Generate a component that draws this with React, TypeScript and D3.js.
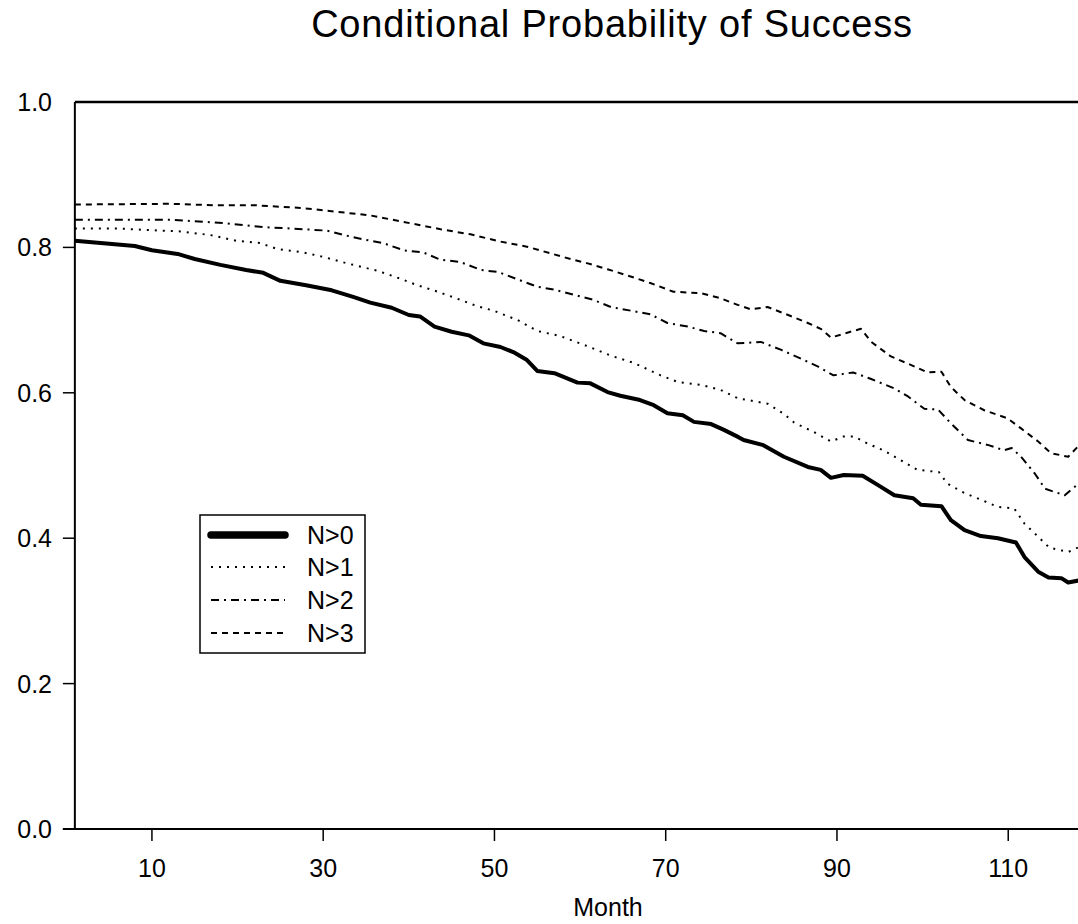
import React from "react";
import * as d3 from "d3";

const title = "Conditional Probability of Success";
const xLabel = "Month";
const xTicks = [10, 30, 50, 70, 90, 110];
const yTicks = [0, 0.2, 0.4, 0.6, 0.8];
const yTickLabels = ["0.0", "0.2", "0.4", "0.6", "0.8"];
const seriesNames = ["N>0", "N>1", "N>2", "N>3"];

const n0Months = [1, 4, 6, 8, 10, 13, 15, 18, 21, 23, 25, 28, 31, 33.5, 35.5, 38, 40, 41.3, 43, 45, 47, 48.7, 50.7, 52.2, 53.8, 55, 57, 59.7, 61.2, 63.2, 64.7, 67, 68.6, 70.2, 72, 73.3, 75.3, 76.8, 78.5, 79.1, 81.4, 83.8, 86.6, 88.1, 89.3, 90.8, 93, 94.8, 96.7, 98.9, 99.8, 102.2, 103.3, 104.9, 106.8, 108.8, 110.9, 111.9, 113.5, 114.7, 116.2, 117, 118.3, 120];
const n0Values = [0.809, 0.806, 0.804, 0.802, 0.796, 0.791, 0.784, 0.776, 0.769, 0.765, 0.754, 0.748, 0.741, 0.732, 0.724, 0.717, 0.707, 0.705, 0.691, 0.684, 0.679, 0.668, 0.663, 0.656, 0.645, 0.63, 0.627, 0.614, 0.613, 0.601, 0.596, 0.59, 0.583, 0.572, 0.569, 0.56, 0.557, 0.549, 0.539, 0.535, 0.528, 0.512, 0.498, 0.494, 0.483, 0.487, 0.486, 0.473, 0.459, 0.455, 0.446, 0.444, 0.425, 0.411, 0.403, 0.4, 0.394, 0.374, 0.354, 0.346, 0.345, 0.339, 0.342, 0.342];

const n1Months = [1, 6, 9.4, 13.3, 16.8, 19.9, 22.6, 24.6, 27.7, 30, 32.8, 36.3, 39, 41, 42.9, 46, 48, 49.9, 52.7, 55, 57.7, 60.9, 63.6, 66.3, 69.4, 71.4, 74.1, 76.4, 78.5, 79.6, 81.9, 83.8, 85, 87.3, 89.3, 90.8, 92, 93.6, 95.4, 97.8, 99.4, 101.9, 102.9, 104.9, 106.8, 108.8, 110.7, 111.9, 113.5, 114.8, 117, 118.3, 120];
const n1Values = [0.826, 0.826, 0.824, 0.822, 0.817, 0.809, 0.806, 0.798, 0.793, 0.787, 0.778, 0.768, 0.757, 0.748, 0.741, 0.728, 0.719, 0.713, 0.7, 0.685, 0.678, 0.664, 0.651, 0.641, 0.624, 0.615, 0.611, 0.604, 0.592, 0.59, 0.585, 0.571, 0.559, 0.546, 0.533, 0.54, 0.54, 0.53, 0.521, 0.505, 0.494, 0.491, 0.475, 0.462, 0.453, 0.443, 0.441, 0.42, 0.402, 0.387, 0.381, 0.388, 0.388];

const n2Months = [1, 7, 12.2, 16.4, 18.8, 23, 27.7, 30.5, 32.8, 34.7, 37, 39.4, 41.7, 43.7, 46, 48.4, 50.5, 52.7, 55, 56.9, 59.2, 61.5, 63.6, 65.9, 68.2, 70.2, 72.6, 74.5, 76.4, 78.4, 81.1, 83.5, 85.8, 87.8, 89.6, 91.9, 94, 96.7, 98.3, 100.2, 101.8, 103.3, 105.3, 107.7, 109.5, 110.4, 111.5, 113.1, 114.3, 116.6, 118.2, 120];
const n2Values = [0.838, 0.838, 0.838, 0.835, 0.833, 0.828, 0.825, 0.823, 0.816, 0.811, 0.806, 0.796, 0.793, 0.783, 0.78, 0.769, 0.766, 0.756, 0.746, 0.742, 0.735, 0.728, 0.718, 0.713, 0.708, 0.696, 0.691, 0.685, 0.682, 0.668, 0.67, 0.659, 0.647, 0.636, 0.624, 0.628, 0.619, 0.606, 0.595, 0.578, 0.577, 0.558, 0.535, 0.528, 0.521, 0.524, 0.512, 0.489, 0.468, 0.459, 0.475, 0.48];

const n3Months = [1, 12.2, 17.2, 22, 27.7, 31.6, 35.5, 39.4, 43.7, 47.2, 50.7, 53.8, 56.5, 58.9, 60.9, 63.2, 65.9, 68.2, 70.9, 74.1, 76.4, 78.4, 79.9, 81.9, 84.3, 86.6, 88.1, 89.3, 91.3, 92.8, 94, 96.3, 98.3, 100.6, 102.2, 103.3, 104.9, 107.2, 109.9, 111.5, 113.5, 115, 117, 118.3, 120];
const n3Values = [0.859, 0.86, 0.858, 0.858, 0.854, 0.849, 0.844, 0.835, 0.825, 0.818, 0.808, 0.801, 0.792, 0.784, 0.778, 0.77, 0.76, 0.751, 0.739, 0.737, 0.73, 0.721, 0.715, 0.718, 0.707, 0.696, 0.688, 0.676, 0.683, 0.688, 0.67, 0.65, 0.64, 0.628, 0.629, 0.608, 0.59, 0.576, 0.565, 0.551, 0.533, 0.517, 0.512, 0.528, 0.535];

const seriesMonths = [n0Months, n1Months, n2Months, n3Months];
const seriesValues = [n0Values, n1Values, n2Values, n3Values];

const styles = [
  { width: 4, dash: "none", legendWidth: 7.5 },
  { width: 2, dash: "2,6", legendWidth: 2 },
  { width: 2, dash: "8,5,2,5", legendWidth: 2 },
  { width: 2, dash: "6,5", legendWidth: 2 },
];

const W = 1078;
const H = 924;
const FONT = "'Liberation Sans', Arial, Helvetica, sans-serif";

export default function App() {
  const x = d3.scaleLinear().domain([0, 120]).range([66.3, 66.3 + 8.563 * 120]);
  const y = d3.scaleLinear().domain([0, 1]).range([829, 102]);
  const left = x(1);
  const line = d3
    .line<[number, number]>()
    .x((d) => x(d[0]))
    .y((d) => y(d[1]))
    .curve(d3.curveLinear);

  const legendX = 200;
  const legendY = 515;
  const legendRows = [535, 567, 600, 633];

  return (
    <svg
      width={W}
      height={H}
      style={{ position: "absolute", left: 0, top: 0, background: "#fff" }}
      fontFamily={FONT}
    >
      <rect x={0} y={0} width={W} height={H} fill="#fff" />
      <text x={612} y={37} textAnchor="middle" fontSize={38} letterSpacing={0.8} fill="#000">
        {title}
      </text>

      {seriesNames.map((name, i) => {
        const pts = seriesMonths[i].map((m, j) => [m, seriesValues[i][j]] as [number, number]);
        return (
          <path
            key={name}
            d={line(pts) || ""}
            fill="none"
            stroke="#000"
            strokeWidth={styles[i].width}
            strokeDasharray={styles[i].dash}
            strokeLinejoin="round"
          />
        );
      })}

      {/* top frame line at 1.0 */}
      <line x1={left} x2={W} y1={y(1)} y2={y(1)} stroke="#000" strokeWidth={2.5} />
      {/* y axis */}
      <line x1={left} x2={left} y1={y(1)} y2={y(0)} stroke="#000" strokeWidth={2} />
      {/* x axis */}
      <line x1={left - 12} x2={W} y1={y(0)} y2={y(0)} stroke="#000" strokeWidth={2} />

      {yTicks.map((t, i) => (
        <g key={"y" + t}>
          <line x1={left - 12} x2={left} y1={y(t)} y2={y(t)} stroke="#000" strokeWidth={1.5} />
          <text x={52} y={y(t)} dy="0.36em" textAnchor="end" fontSize={25} fill="#000">
            {yTickLabels[i]}
          </text>
        </g>
      ))}
      <text x={52} y={y(1)} dy="0.36em" textAnchor="end" fontSize={25} fill="#000">
        1.0
      </text>

      {xTicks.map((t) => (
        <g key={"x" + t}>
          <line x1={x(t)} x2={x(t)} y1={y(0)} y2={y(0) + 12} stroke="#000" strokeWidth={1.5} />
          <text x={x(t)} y={877} textAnchor="middle" fontSize={25} fill="#000">
            {t}
          </text>
        </g>
      ))}
      <text x={608} y={916} textAnchor="middle" fontSize={25} fill="#000">
        {xLabel}
      </text>

      {/* legend */}
      <rect x={legendX} y={legendY} width={165} height={138} fill="#fff" stroke="#000" strokeWidth={1.5} />
      {seriesNames.map((name, i) => (
        <g key={"lg" + name}>
          <line
            x1={211}
            x2={285}
            y1={legendRows[i]}
            y2={legendRows[i]}
            stroke="#000"
            strokeWidth={styles[i].legendWidth}
            strokeDasharray={styles[i].dash}
            strokeLinecap={i === 0 ? "round" : "butt"}
          />
          <text x={307} y={legendRows[i]} dy="0.36em" fontSize={25} fill="#000">
            {name}
          </text>
        </g>
      ))}
    </svg>
  );
}
